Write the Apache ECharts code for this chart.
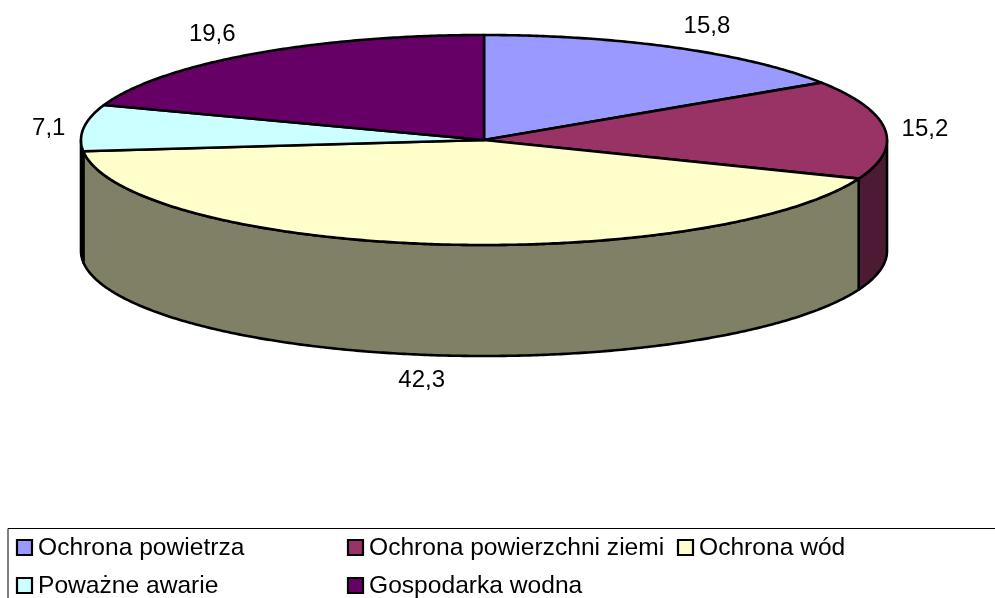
<!DOCTYPE html>
<html>
<head>
<meta charset="utf-8">
<style>html,body{margin:0;padding:0;background:#fff}#c{width:995px;height:598px}</style>
<script src="https://cdn.jsdelivr.net/npm/echarts@6/dist/echarts.min.js"></script>
</head>
<body>
<div id="c"></div>
<script>
const categories = ['Ochrona powietrza', 'Ochrona powierzchni ziemi', 'Ochrona wód', 'Poważne awarie', 'Gospodarka wodna'];
const values = [15.8, 15.2, 42.3, 7.1, 19.6];
const topColors = ['#9999FF', '#993366', '#FFFFCC', '#CCFFFF', '#660066'];
const wallColors = ['#4D4D80', '#4D1A33', '#808066', '#668080', '#330033'];
const labelNudges = [[31, -21], [40, 0], [-8, 136], [-35, 1], [-39, -20]];
const legendSpots = [[17, 535], [348, 535], [678, 535], [17, 573], [348, 573]];

const WALL_DEPTH = 111;
const FONT = '"Liberation Sans", Arial, sans-serif';
const total = values.reduce((a, b) => a + b, 0);
const starts = values.map((_, i) => values.slice(0, i).reduce((a, b) => a + b, 0));

function rimPoint(api, turn) {
  const t = turn * 2 * Math.PI;
  return api.coord([Math.sin(t), Math.cos(t)]);
}
function arc(api, a, b) {
  const n = Math.max(2, Math.ceil((b - a) * 720));
  const pts = [];
  for (let k = 0; k <= n; k++) pts.push(rimPoint(api, a + (b - a) * k / n));
  return pts;
}
const edge = { stroke: '#000', lineWidth: 2.6, lineJoin: 'round' };

function renderSlice(i) {
  return function (params, api) {
    const value = api.value(2);
    const a = starts[i] / total;
    const b = a + value / total;
    const children = [];
    const wa = Math.max(a, 0.25), wb = Math.min(b, 0.75);
    if (wb > wa) {
      const upper = arc(api, wa, wb);
      const lower = upper.map(p => [p[0], p[1] + WALL_DEPTH]).reverse();
      children.push({
        type: 'polygon', z2: 1,
        shape: { points: upper.concat(lower) },
        style: Object.assign({ fill: wallColors[i] }, edge)
      });
    }
    children.push({
      type: 'polygon', z2: 2,
      shape: { points: [api.coord([0, 0])].concat(arc(api, a, b)) },
      style: Object.assign({ fill: topColors[i] }, edge)
    });
    const mid = rimPoint(api, (a + b) / 2);
    children.push({
      type: 'text', z2: 3,
      style: {
        text: String(value).replace('.', ','),
        x: mid[0] + labelNudges[i][0],
        y: mid[1] + labelNudges[i][1],
        fill: '#000',
        font: '24px ' + FONT,
        align: 'center',
        verticalAlign: 'middle'
      }
    });
    return { type: 'group', children };
  };
}

const option = {
  animation: false,
  backgroundColor: '#fff',
  grid: { left: 81, top: 35, width: 806, height: 210 },
  xAxis: { type: 'value', min: -1, max: 1, show: false },
  yAxis: { type: 'value', min: -1, max: 1, show: false },
  graphic: [{
    type: 'rect', silent: true,
    shape: { x: 8, y: 528.5, width: 1100, height: 200 },
    style: { fill: 'none', stroke: '#000', lineWidth: 1 }
  }].concat(legendSpots.map(s => ({
    type: 'rect', silent: true, z: 100,
    shape: { x: s[0], y: Math.floor(s[1] + 5.5), width: 15, height: 15 },
    style: { fill: 'none', stroke: '#000', lineWidth: 2.2 }
  }))),
  legend: categories.map((name, i) => ({
    data: [name],
    left: legendSpots[i][0],
    top: legendSpots[i][1],
    padding: 0,
    icon: 'rect',
    itemWidth: 15,
    itemHeight: 15,
    selectedMode: false,
    itemStyle: { color: topColors[i], borderWidth: 0 },
    textStyle: { color: '#000', fontSize: 24.6, fontFamily: FONT, lineHeight: 26, padding: [0, 0, 0, 1] }
  })),
  series: categories.map((name, i) => ({
    type: 'custom',
    name,
    coordinateSystem: 'cartesian2d',
    clip: false,
    silent: true,
    encode: { x: 0, y: 1 },
    itemStyle: { color: topColors[i] },
    data: [{ name, value: [0, 0, values[i]] }],
    renderItem: renderSlice(i)
  }))
};
echarts.init(document.getElementById('c'), null, { renderer: 'canvas' }).setOption(option);
</script>
</body>
</html>
